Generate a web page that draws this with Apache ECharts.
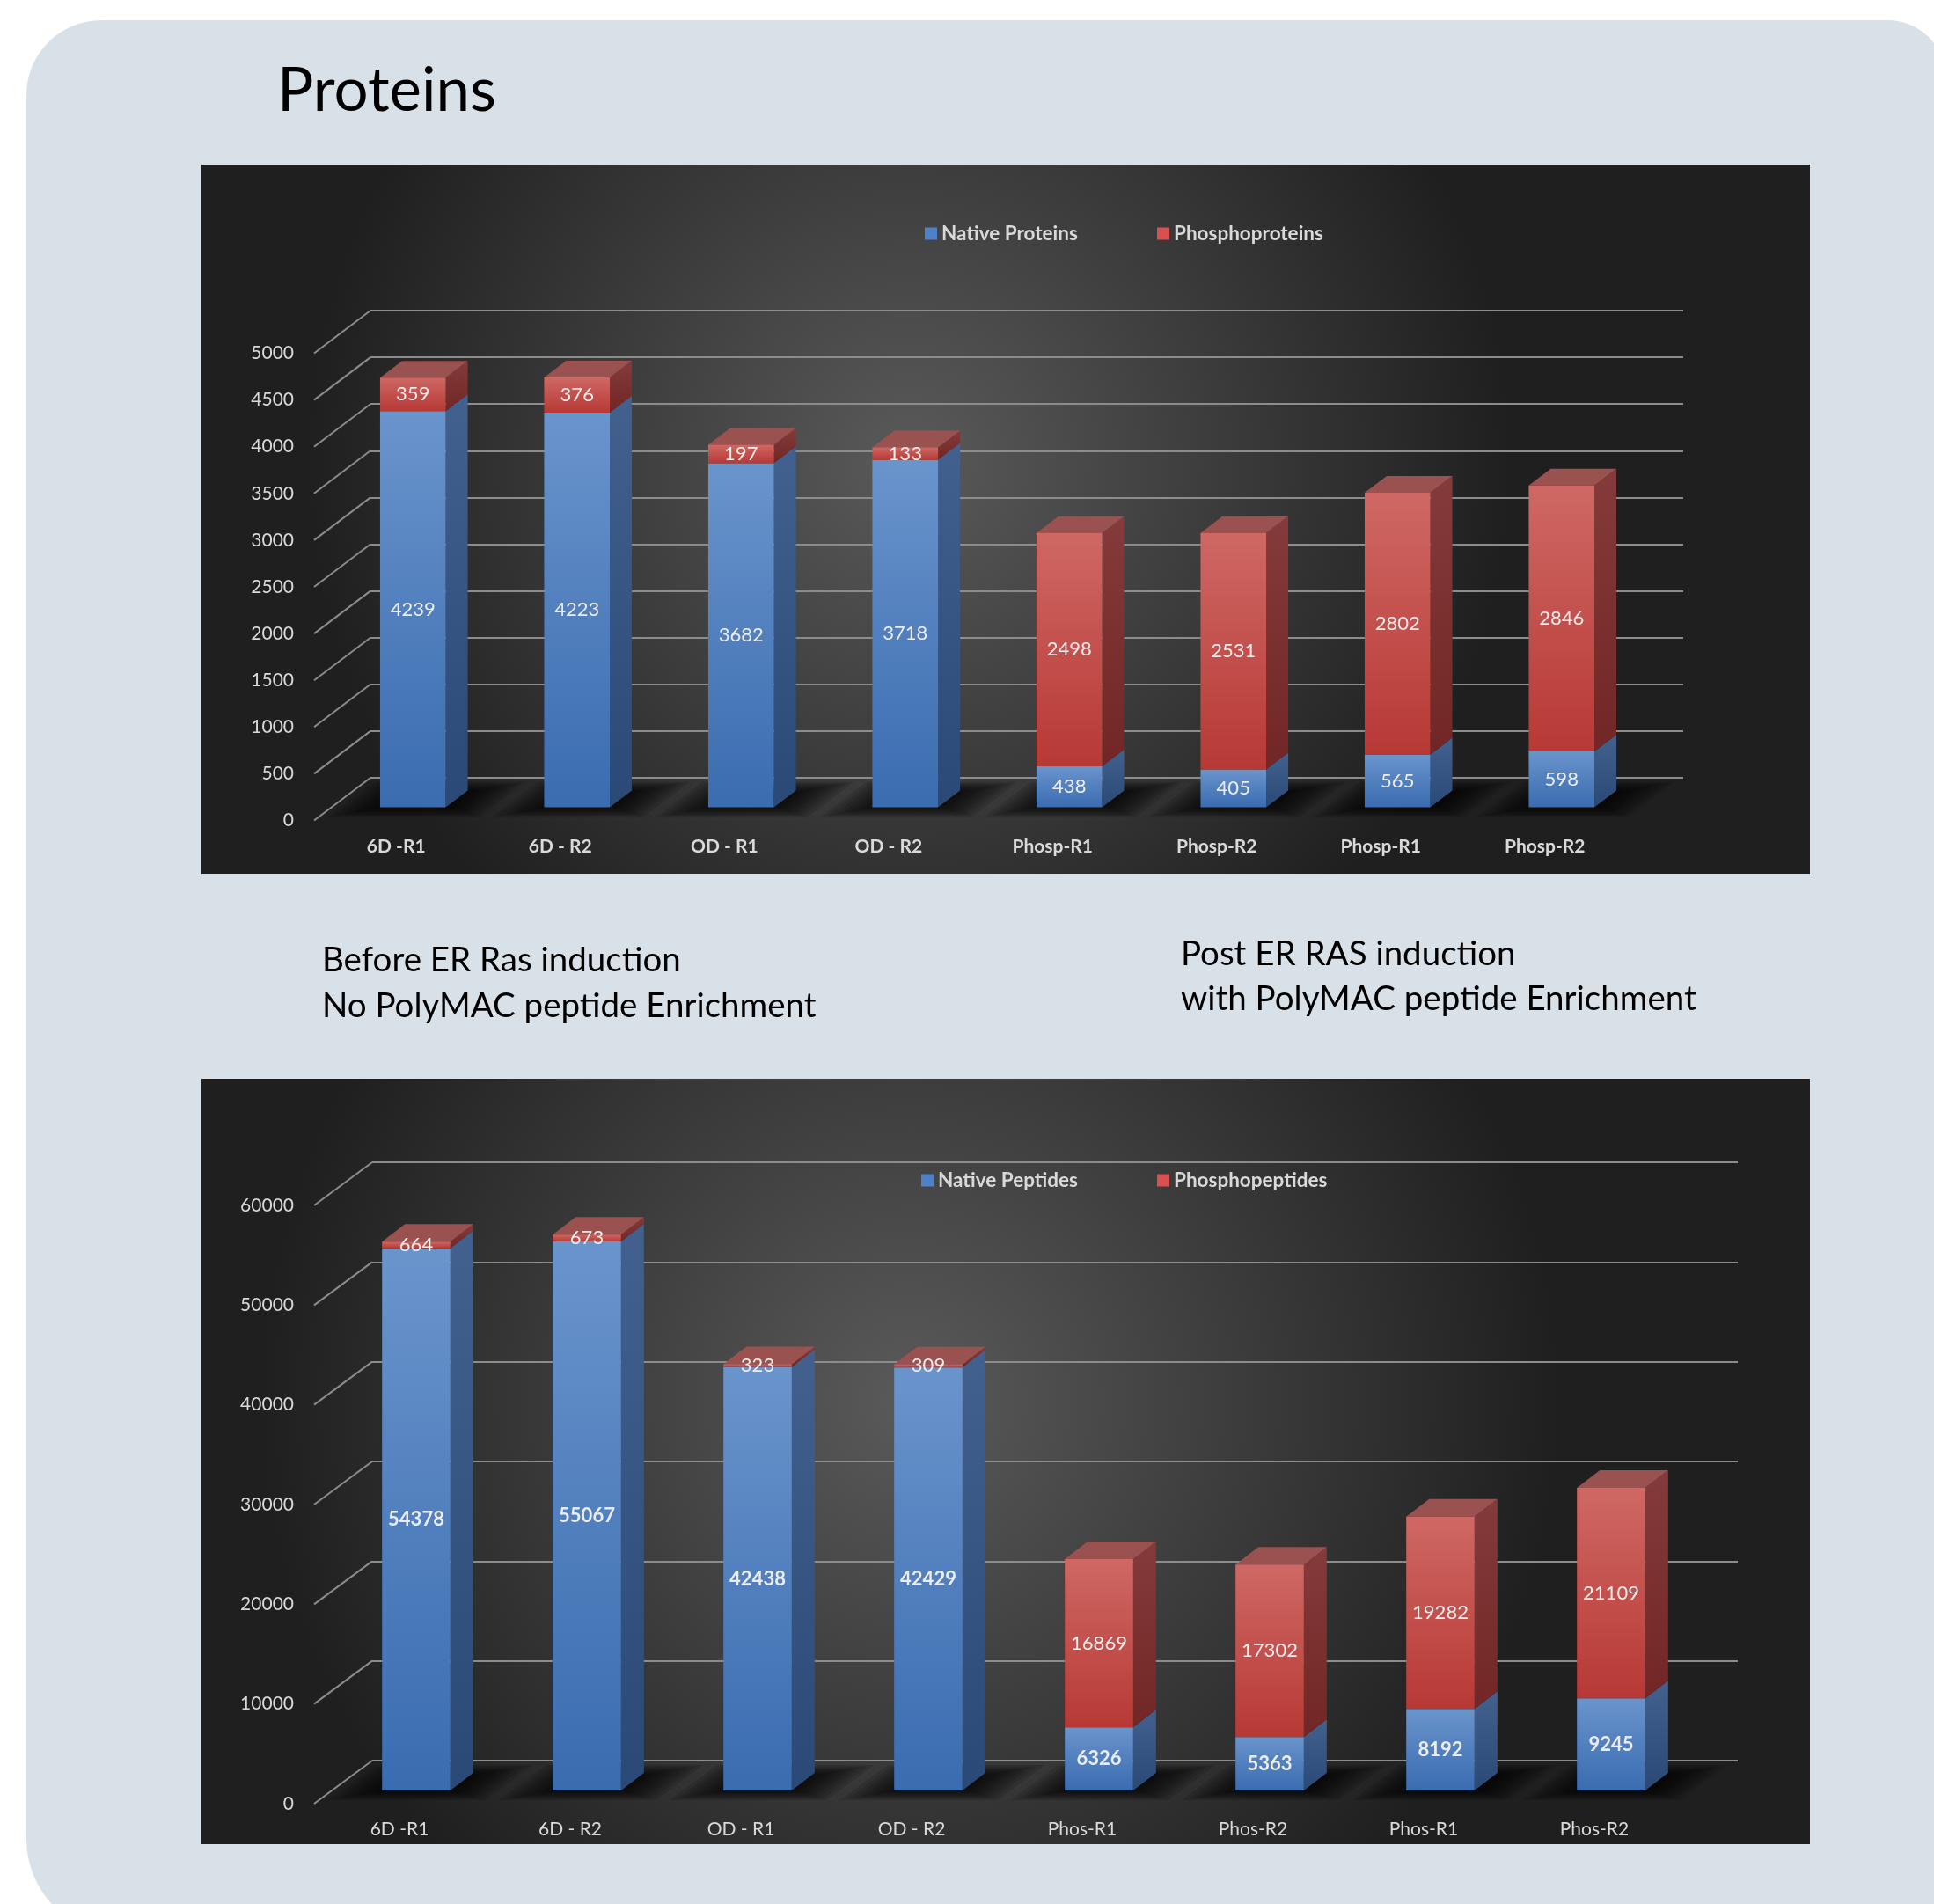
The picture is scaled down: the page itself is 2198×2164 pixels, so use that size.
<!DOCTYPE html>
<html>
<head>
<meta charset="UTF-8">
<title>Proteins</title>
<script src="https://cdn.jsdelivr.net/npm/echarts@6.0.0/dist/echarts.min.js"></script>
<style>
  body { margin: 0; background: #ffffff; }
  #container { width: 2198px; height: 2164px; }
</style>
</head>
<body>
<div id="container"></div>
<script>
// data
var proteinCats = ['6D -R1', '6D - R2', 'OD - R1', 'OD - R2', 'Phosp-R1', 'Phosp-R2', 'Phosp-R1', 'Phosp-R2'];
var peptideCats = ['6D -R1', '6D - R2', 'OD - R1', 'OD - R2', 'Phos-R1', 'Phos-R2', 'Phos-R1', 'Phos-R2'];
var nativeProteins = [4239, 4223, 3682, 3718, 438, 405, 565, 598];
var phosphoProteins = [359, 376, 197, 133, 2498, 2531, 2802, 2846];
var nativePeptides = [54378, 55067, 42438, 42429, 6326, 5363, 8192, 9245];
var phosphoPeptides = [664, 673, 323, 309, 16869, 17302, 19282, 21109];
var proteinTicks = [0, 500, 1000, 1500, 2000, 2500, 3000, 3500, 4000, 4500, 5000];
var peptideTicks = [0, 10000, 20000, 30000, 40000, 50000, 60000];

var FONT = 'Lato, "Open Sans", sans-serif';
var LABEL_COLOR = '#d9d9d9';
var GRID_COLOR = '#8c8c8c';

var blueFaces = { front: ['#6a94cc', '#3a6cb0'], side: ['#42618f', '#2a4977'], top: '#5b80b8', legend: '#4f81c9' };
var redFaces = { front: ['#cf6864', '#b73935'], side: ['#853b3b', '#722626'], top: '#9a5250', legend: '#d9514e' };

var chart = echarts.init(document.getElementById('container'));

var option = {
  animation: false,
  backgroundColor: '#ffffff',
  grid: [], xAxis: [], yAxis: [], series: [], legend: [],
  graphic: []
};

function vGrad(c) {
  return new echarts.graphic.LinearGradient(0, 0, 0, 1, [
    { offset: 0, color: c[0] }, { offset: 1, color: c[1] }
  ]);
}

function segmentSeries(name, gi, cfg, bases, values, faces, isTop, bold, shadow) {
  return {
    name: name,
    type: 'custom',
    xAxisIndex: gi + 1,
    yAxisIndex: gi + 1,
    itemStyle: { color: faces.legend },
    data: values.map(function (v, i) { return [i, bases[i], v]; }),
    encode: { x: 0, y: 2 },
    renderItem: function (params, api) {
      var i = api.value(0), base = api.value(1), val = api.value(2);
      var p0 = api.coord([i, base]);
      var p1 = api.coord([i, base + val]);
      var w = api.size([1, 0])[0] * 0.4;
      var x0 = p0[0] - w / 2, x1 = p0[0] + w / 2, y0 = p0[1], y1 = p1[1];
      var dx = cfg.barDepth[0], dy = cfg.barDepth[1];
      var kids = [];
      if (shadow) {
        // soft floor shadow, skewed along the depth direction
        var s = cfg.backPlane[0] / -cfg.backPlane[1];
        var cx = p0[0] + 16, cy = y0 - 9;
        for (var k = 0; k < 12; k++) {
          var f = 1 - k * 0.07;
          var hw = w * 1.15 * f, hd = 20 * f;
          kids.push({
            type: 'polygon',
            shape: { points: [
              [cx - hw - s * hd, cy + hd], [cx + hw - s * hd, cy + hd],
              [cx + hw + s * hd, cy - hd], [cx - hw + s * hd, cy - hd]
            ] },
            style: { fill: 'rgba(0,0,0,0.12)' }
          });
        }
      }
      kids.push({
        type: 'polygon',
        shape: { points: [[x1, y1], [x1 + dx, y1 + dy], [x1 + dx, y0 + dy], [x1, y0]] },
        style: { fill: vGrad(faces.side) }
      });
      if (isTop) {
        kids.push({
          type: 'polygon',
          shape: { points: [[x0, y1], [x0 + dx, y1 + dy], [x1 + dx, y1 + dy], [x1, y1]] },
          style: { fill: faces.top }
        });
      }
      kids.push({
        type: 'rect',
        shape: { x: x0, y: y1, width: w, height: y0 - y1 },
        style: { fill: vGrad(faces.front) }
      });
      kids.push({
        type: 'text',
        x: p0[0],
        y: (y0 + y1) / 2,
        style: {
          text: String(val), fill: '#ececec', fontFamily: FONT, fontSize: 22,
          fontWeight: bold ? 'bold' : 'normal', align: 'center', verticalAlign: 'middle'
        }
      });
      return { type: 'group', children: kids };
    }
  };
}

function addPanel(cfg) {
  var gi = option.grid.length;
  // front plane (labels), bar plane, back wall
  var planes = [[0, 0], cfg.barPlane, cfg.backPlane];
  planes.forEach(function (p, k) {
    option.grid.push({
      left: cfg.left + p[0], top: cfg.zeroY - cfg.height + p[1],
      width: cfg.width, height: cfg.height, outerBoundsMode: 'none'
    });
    option.xAxis.push({
      type: 'category', gridIndex: gi + k, data: cfg.cats, show: k === 0,
      axisLine: { show: false }, axisTick: { show: false }, splitLine: { show: false },
      axisLabel: {
        interval: 0, margin: 19, color: LABEL_COLOR, fontFamily: FONT, fontSize: 21,
        fontWeight: cfg.catBold ? 'bold' : 'normal'
      }
    });
    option.yAxis.push({
      type: 'value', gridIndex: gi + k, min: 0, max: cfg.ticks[cfg.ticks.length - 1],
      interval: cfg.ticks[1] - cfg.ticks[0], show: k !== 1,
      axisLine: { show: false }, axisTick: { show: false },
      axisLabel: {
        show: k === 0, margin: 23, color: LABEL_COLOR, fontFamily: FONT, fontSize: 21,
        formatter: function (v) { return String(v); }
      },
      splitLine: { show: k === 2, lineStyle: { color: GRID_COLOR, width: 2 } }
    });
  });

  // diagonal lines from the front labels to the back wall
  option.series.push({
    type: 'custom', xAxisIndex: gi + 2, yAxisIndex: gi + 2, silent: true,
    data: cfg.ticks.map(function (v) { return [0, v]; }),
    encode: { x: 0, y: 1 },
    renderItem: function (params, api) {
      var y = api.coord([0, api.value(1)])[1];
      var x = params.coordSys.x;
      return {
        type: 'line',
        shape: { x1: x, y1: y, x2: x - cfg.backPlane[0], y2: y - cfg.backPlane[1] },
        style: { stroke: GRID_COLOR, lineWidth: 2 }
      };
    }
  });

  var zeros = cfg.native.map(function () { return 0; });
  option.series.push(segmentSeries(cfg.names[0], gi, cfg, zeros, cfg.native, blueFaces, false, cfg.nativeBold, true));
  option.series.push(segmentSeries(cfg.names[1], gi, cfg, cfg.native, cfg.phospho, redFaces, true, false, false));

  cfg.names.forEach(function (nm, k) {
    option.legend.push({
      left: cfg.legendLeft[k], top: cfg.legendTop, padding: 0,
      itemWidth: 14, itemHeight: 14, selectedMode: false,
      data: [{ name: nm, icon: 'rect', itemStyle: { color: (k ? redFaces : blueFaces).legend } }],
      textStyle: { color: LABEL_COLOR, fontFamily: FONT, fontSize: 22.5, fontWeight: 'bold' }
    });
  });
}

addPanel({
  cats: proteinCats, ticks: proteinTicks, native: nativeProteins, phospho: phosphoProteins,
  names: ['Native Proteins', 'Phosphoproteins'],
  left: 357, width: 1492, zeroY: 932.5, height: 531,
  barPlane: [19, -15], backPlane: [64, -48.5], barDepth: [25, -19],
  catBold: true, nativeBold: false,
  legendLeft: [1051, 1315], legendTop: 254
});

addPanel({
  cats: peptideCats, ticks: peptideTicks, native: nativePeptides, phospho: phosphoPeptides,
  names: ['Native Peptides', 'Phosphopeptides'],
  left: 357, width: 1552, zeroY: 2050, height: 680,
  barPlane: [19, -15], backPlane: [66, -49], barDepth: [26, -20],
  catBold: false, nativeBold: true,
  legendLeft: [1047, 1315], legendTop: 1330
});

function darkFill() {
  return new echarts.graphic.RadialGradient(0.44, 0.42, 0.85, [
    { offset: 0, color: '#5a5a5a' }, { offset: 1, color: '#1f1f1f' }
  ]);
}

option.graphic = [
  { type: 'rect', z: -30, shape: { x: 30, y: 23, width: 2182, height: 2177, r: [85, 67, 0, 110] }, style: { fill: '#d9e1e8' } },
  { type: 'rect', z: -20, shape: { x: 229, y: 187, width: 1828, height: 806 }, style: { fill: darkFill() } },
  { type: 'rect', z: -20, shape: { x: 229, y: 1226, width: 1828, height: 870 }, style: { fill: darkFill() } },
  { type: 'text', z: 10, x: 315, y: 104, style: { text: 'Proteins', fill: '#000', fontFamily: FONT, fontSize: 69, verticalAlign: 'middle' } },
  { type: 'text', z: 10, x: 366, y: 1092, style: { text: 'Before ER Ras induction', fill: '#000', fontFamily: FONT, fontSize: 38.5, verticalAlign: 'middle' } },
  { type: 'text', z: 10, x: 366, y: 1144, style: { text: 'No PolyMAC peptide Enrichment', fill: '#000', fontFamily: FONT, fontSize: 38.5, verticalAlign: 'middle' } },
  { type: 'text', z: 10, x: 1342, y: 1085, style: { text: 'Post ER RAS induction', fill: '#000', fontFamily: FONT, fontSize: 38.5, verticalAlign: 'middle' } },
  { type: 'text', z: 10, x: 1342, y: 1136, style: { text: 'with PolyMAC peptide Enrichment', fill: '#000', fontFamily: FONT, fontSize: 38.5, verticalAlign: 'middle' } }
];

chart.setOption(option);
</script>
</body>
</html>
